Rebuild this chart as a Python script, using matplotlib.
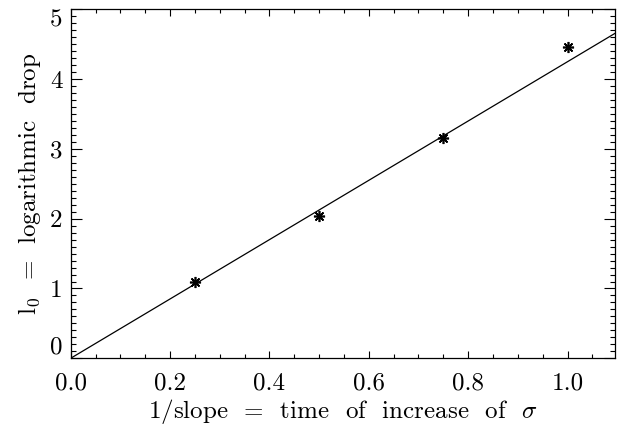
import numpy as np
import matplotlib.pyplot as plt
from matplotlib.ticker import MultipleLocator

# 数据
inv_slope = [0.25, 0.50, 0.75, 1.00]
log_drop = [1.09, 2.04, 3.15, 4.46]
fit_slope = 4.25      # 过原点的拟合直线斜率
x_range = [0.0, 1.095]

plt.rcParams['font.family'] = ['cmr10', 'DejaVu Serif']
plt.rcParams['mathtext.fontset'] = 'cm'
plt.rcParams['axes.formatter.use_mathtext'] = True

fig = plt.figure(figsize=(6.37, 4.26), dpi=100)
ax = fig.add_axes([0.111, 0.159, 0.854, 0.819])

# 拟合直线
xl = np.array(x_range)
ax.plot(xl, fit_slope * xl, color='black', linewidth=0.9)

# 数据点（星号）
ax.plot(inv_slope, log_drop, linestyle='none', marker=(8, 2, 0),
        markersize=8, color='black', markeredgewidth=1.2)

ax.set_xlim(x_range)
ax.set_ylim(0, 5)

ax.xaxis.set_major_locator(MultipleLocator(0.2))
ax.xaxis.set_minor_locator(MultipleLocator(0.05))
ax.yaxis.set_major_locator(MultipleLocator(1))
ax.yaxis.set_minor_locator(MultipleLocator(0.1))
ax.xaxis.set_major_formatter(plt.FormatStrFormatter('%.1f'))
ax.yaxis.set_major_formatter(plt.FormatStrFormatter('%d'))

ax.tick_params(which='both', direction='in', top=True, right=True,
               labelsize=18, width=0.8)
ax.tick_params(axis='x', which='major', length=5, pad=10)
ax.tick_params(axis='x', which='minor', length=2.8)
ax.tick_params(axis='y', which='major', length=8, pad=6)
ax.tick_params(axis='y', which='minor', length=3.6)
for s in ax.spines.values():
    s.set_linewidth(0.9)

ax.set_xlabel(r'1/slope  =  time  of  increase  of  $\sigma$', fontsize=18, labelpad=2)
ax.set_ylabel(r'l$_0$  =  logarithmic  drop', fontsize=18, labelpad=5)

# IDL 风格：端点刻度标签贴齐坐标轴
fig.canvas.draw()
for lab in ax.get_yticklabels():
    if lab.get_position()[1] == 0:
        lab.set_verticalalignment('bottom')
    if lab.get_position()[1] == 5:
        lab.set_verticalalignment('top')

fig.savefig('out.png', dpi=100)
